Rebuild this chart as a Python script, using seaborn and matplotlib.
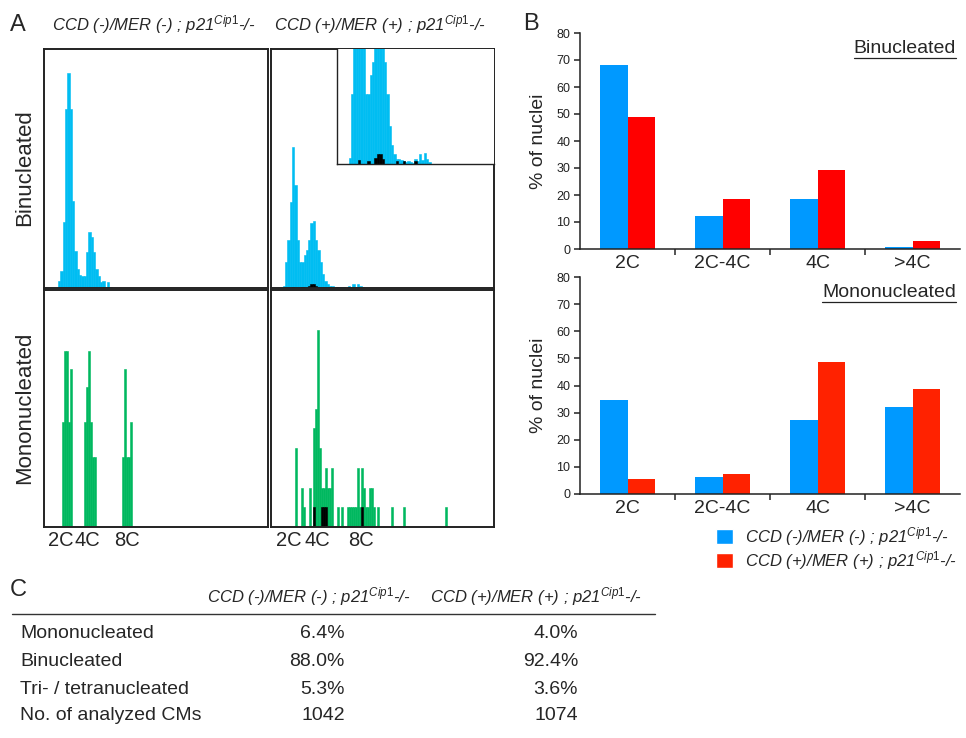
import matplotlib
matplotlib.use('Agg')
import matplotlib.pyplot as plt
import seaborn as sns
import pandas as pd
from matplotlib.patches import Patch
from matplotlib.lines import Line2D

# ---------------- data ----------------
# panel A : DNA content histograms (bin index -> height)
tl_bins = list(range(6, 29))
tl_vals = [2.8, 7, 27.7, 75, 90, 75, 36.5, 15.4, 8, 5.6, 5.2, 5.2, 15, 23.5,
           21.4, 15, 8, 5.2, 2.4, 3.1, 0, 2.4, 0.6]

tr_bins = list(range(5, 40))
tr_vals = [1, 11, 20, 36, 59, 43, 20, 11, 11, 14, 16, 20, 27, 28, 20, 16, 11,
           6, 3, 1.5, 0.8, 0.8, 0.6, 0.4, 0.3, 0.5, 0.3, 0.2, 0.8, 0.5, 1.5,
           0.6, 1.7, 0.8, 0.3]
tr_blk_bins = [9, 13, 16, 17, 18, 19, 25, 28, 33]
tr_blk_vals = [0.6, 0.4, 1.0, 1.6, 1.6, 0.8, 0.4, 0.4, 0.4]

bl_bins = [9, 10, 11, 12, 13, 20, 21, 22, 23, 24, 25, 39, 40, 41, 42, 43]
bl_vals = [6, 10, 10, 6, 9, 6, 8, 10, 6, 4, 4, 4, 9, 4, 4, 6]

br_bins = [12, 15, 16, 19, 21, 22, 23, 24, 25, 26, 27, 28, 29, 30, 33, 35,
           38, 39, 40, 41, 42, 43, 44, 45, 46, 47, 48, 49, 50, 51, 53, 60, 66, 87]
br_vals = [4, 2, 1, 2, 5, 6, 10, 4, 2, 2, 3, 2, 2, 3, 1, 1,
           1, 1, 1, 1, 1, 3, 1, 3, 2, 1, 1, 2, 2, 1, 1, 1, 1, 1]
br_blk_bins = [21, 25, 26, 27, 45]
br_blk_vals = [1, 1, 1, 1, 1]

tick_pos_left = [8, 21, 41]
tick_pos_right = [8.6, 22.6, 44.6]
tick_names = ['2C', '4C', '8C']

# panel B
ploidy = ['2C', '2C-4C', '4C', '>4C']
g_neg = r'CCD (-)/MER (-) ; p21$^{\mathit{Cip1}}$-/-'
g_pos = r'CCD (+)/MER (+) ; p21$^{\mathit{Cip1}}$-/-'
bi_neg = [68.3, 12.1, 18.4, 0.9]
bi_pos = [49.0, 18.7, 29.1, 3.0]
mono_neg = [34.8, 6.2, 27.4, 32.0]
mono_pos = [5.7, 7.4, 48.7, 38.8]

# panel C
row_names = ['Mononucleated', 'Binucleated', 'Tri- / tetranucleated', 'No. of analyzed CMs']
col_neg = ['6.4%', '88.0%', '5.3%', '1042']
col_pos = ['4.0%', '92.4%', '3.6%', '1074']

# ---------------- style ----------------
sns.set_theme(style='ticks')
plt.rcParams['font.family'] = ['Liberation Sans', 'DejaVu Sans']
plt.rcParams['mathtext.fontset'] = 'custom'
plt.rcParams['mathtext.rm'] = 'Liberation Sans'
plt.rcParams['mathtext.it'] = 'Liberation Sans:italic'

cyan = '#00BDF2'
green = '#00B85F'
blue = '#0099FF'
red_bi = '#FF0000'
red_mono = '#FF2200'

W, H = 966, 738
fig = plt.figure(figsize=(W / 100, H / 100), dpi=100)


def px_axes(x0, y0, x1, y1):
    return fig.add_axes([x0 / W, 1 - y1 / H, (x1 - x0) / W, (y1 - y0) / H])


def fx(x):
    return x / W


def fy(y):
    return 1 - y / H


def bars(ax, bins, vals, color):
    # solid bars, edge in the same colour so neighbours merge without gaps
    sns.histplot(x=bins, weights=vals, discrete=True, color=color, alpha=1,
                 edgecolor=color, linewidth=0.4, ax=ax)
    ax.set_ylabel('')
    ax.set_xlabel('')


def hist_box(ax, bins, vals, color, xlim, ylim):
    bars(ax, bins, vals, color)
    ax.set_xlim(*xlim)
    ax.set_ylim(*ylim)
    ax.set_yticks([])
    ax.set_xticks([])
    for sp in ax.spines.values():
        sp.set_linewidth(1.4)
        sp.set_color('#222222')


# ---------------- panel A ----------------
ax_tl = px_axes(44, 49, 268, 288)
hist_box(ax_tl, tl_bins, tl_vals, cyan, (-0.5, 95.5), (0, 100))

ax_tr = px_axes(271, 49, 494, 288)
hist_box(ax_tr, tr_bins, tr_vals, cyan, (-0.5, 95.5), (0, 100))
bars(ax_tr, tr_blk_bins, tr_blk_vals, 'black')

ax_in = px_axes(337, 49, 494, 164)
hist_box(ax_in, tr_bins, tr_vals, cyan, (-0.5, 66.5), (0, 18))
bars(ax_in, tr_blk_bins, tr_blk_vals, 'black')
ax_in.spines['top'].set_visible(False)
ax_in.spines['right'].set_visible(False)
ax_in.spines['left'].set_linewidth(1.0)
ax_in.spines['bottom'].set_linewidth(1.0)

ax_bl = px_axes(44, 290, 268, 527)
hist_box(ax_bl, bl_bins, bl_vals, green, (-0.5, 111), (0, 13.5))

ax_br = px_axes(271, 290, 494, 527)
hist_box(ax_br, br_bins, br_vals, green, (-0.5, 111), (0, 12))
bars(ax_br, br_blk_bins, br_blk_vals, 'black')

for ax, pos in [(ax_bl, tick_pos_left), (ax_br, tick_pos_right)]:
    ax.set_xticks(pos)
    ax.set_xticklabels(tick_names, fontsize=14.5)
    ax.tick_params(axis='x', length=0, pad=3)

fig.text(fx(10), fy(25), 'A', fontsize=17, va='center', ha='left')
fig.text(fx(52), fy(25), g_neg, fontsize=12, style='italic', va='center', ha='left')
fig.text(fx(274), fy(25), g_pos, fontsize=12, style='italic', va='center', ha='left')
fig.text(fx(25), fy(168), 'Binucleated', fontsize=16, rotation=90, va='center', ha='center')
fig.text(fx(25), fy(408), 'Mononucleated', fontsize=16, rotation=90, va='center', ha='center')

# ---------------- panel B ----------------
fig.text(fx(523), fy(24), 'B', fontsize=17, va='center', ha='left')

under_texts = []
for (y0, y1), neg, pos, red, title in [((33, 249), bi_neg, bi_pos, red_bi, 'Binucleated'),
                                       ((277, 494), mono_neg, mono_pos, red_mono, 'Mononucleated')]:
    ax = px_axes(580, y0, 960, y1)
    df = pd.DataFrame({'ploidy': ploidy * 2,
                       'pct': neg + pos,
                       'genotype': [g_neg] * 4 + [g_pos] * 4})
    sns.barplot(data=df, x='ploidy', y='pct', hue='genotype', palette=[blue, red],
                width=0.57, gap=0, saturation=1, linewidth=0, errorbar=None,
                legend=False, ax=ax)
    ax.set_xlim(-0.5, 3.5)
    ax.set_ylim(0, 80)
    ax.set_yticks(range(0, 81, 10))
    ax.set_xlabel('')
    ax.set_ylabel('% of nuclei', fontsize=14, labelpad=7)
    sns.despine(ax=ax)
    for sp in ['left', 'bottom']:
        ax.spines[sp].set_linewidth(1.1)
        ax.spines[sp].set_color('#222222')
    ax.tick_params(axis='y', length=4, width=1.1, labelsize=9, colors='#222222', pad=3)
    ax.set_xticks([0.5, 1.5, 2.5], minor=True)
    ax.tick_params(axis='x', which='minor', length=4, width=1.1, bottom=True)
    ax.tick_params(axis='x', which='major', length=0, labelsize=14, pad=4)
    t = ax.text(0.99, 0.93, title, transform=ax.transAxes, fontsize=14,
                ha='right', va='center')
    under_texts.append(t)

fig.legend(handles=[Patch(facecolor=blue), Patch(facecolor=red_mono)],
           labels=[g_neg, g_pos], loc='upper left',
           bbox_to_anchor=(fx(716), fy(525)), frameon=False,
           prop={'size': 12, 'style': 'italic'}, handlelength=1.0,
           handleheight=1.0, handletextpad=0.75, labelspacing=0.08,
           borderpad=0, borderaxespad=0)

# ---------------- panel C ----------------
fig.text(fx(10), fy(590), 'C', fontsize=17, va='center', ha='left')
fig.text(fx(207), fy(597), g_neg, fontsize=12, style='italic', va='center', ha='left')
fig.text(fx(430), fy(597), g_pos, fontsize=12, style='italic', va='center', ha='left')
fig.add_artist(Line2D([fx(12), fx(655)], [fy(614), fy(614)], color='#333333', lw=1.0))
row_y = [634, 661, 689, 716]
for name, v1, v2, y in zip(row_names, col_neg, col_pos, row_y):
    fig.text(fx(20), fy(y), name, fontsize=14, va='center', ha='left')
    fig.text(fx(345), fy(y), v1, fontsize=14, va='center', ha='right')
    fig.text(fx(578), fy(y), v2, fontsize=14, va='center', ha='right')

# underline the subplot titles in panel B
fig.canvas.draw()
renderer = fig.canvas.get_renderer()
for t in under_texts:
    bb = t.get_window_extent(renderer).transformed(fig.transFigure.inverted())
    yline = bb.y0 - 1.5 / H
    fig.add_artist(Line2D([bb.x0, bb.x1], [yline, yline], color='#222222', lw=0.9))

fig.savefig('out.png', dpi=100)
